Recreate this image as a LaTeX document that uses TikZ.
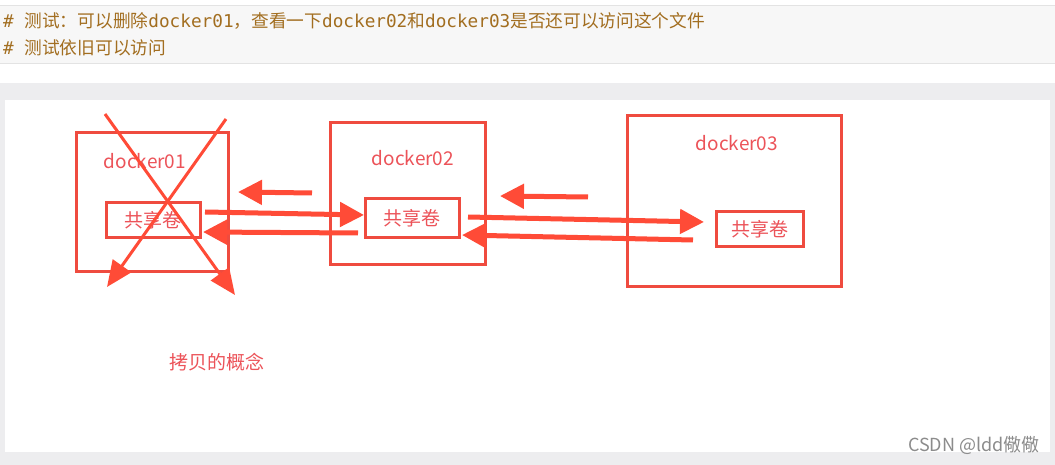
\documentclass[tikz,border=0pt]{standalone}
\usepackage{fontspec}
\setmainfont{Noto Sans CJK SC}
\setmonofont{DejaVu Sans Mono}
\newfontfamily\cjk{Noto Sans CJK SC}
\usetikzlibrary{arrows.meta}
\definecolor{PageGray}{HTML}{EDEDEF}
\definecolor{CodeBg}{HTML}{F7F7F7}
\definecolor{CodeLine}{HTML}{E3E3E3}
\definecolor{CodeBrown}{HTML}{A26E20}
\definecolor{BoxRed}{HTML}{EF4B3F}
\definecolor{ArrowRed}{HTML}{FF4B37}
\definecolor{LabelRed}{HTML}{EC5359}
\definecolor{Mark}{HTML}{8C8C8C}

\begin{document}
\begin{tikzpicture}[
      x=1pt,y=-1pt,
      code/.style={anchor=west,inner sep=0pt,text=CodeBrown,
        font=\ttfamily\fontsize{17.7}{20}\selectfont},
      container/.style={draw=BoxRed,line width=3pt,inner sep=0pt},
      volume/.style={draw=BoxRed,line width=3pt,inner sep=0pt,
        text=LabelRed,font=\cjk\fontsize{19}{22}\selectfont},
      dockname/.style={text=LabelRed,inner sep=0pt,font=\cjk\fontsize{19}{22}\selectfont},
      flow/.style={draw=ArrowRed,line width=5pt,
        -{Triangle[length=24pt,width=24pt]}},
      crossline/.style={draw=ArrowRed,line width=3pt,
        -{Triangle[length=26pt,width=22pt]}}
    ]
      \useasboundingbox (0,0) rectangle (1055,465);
      \fill[PageGray] (0,0) rectangle (1055,465);
      \fill[white] (0,0) rectangle (1055,83);
      \fill[CodeBg] (0,6) rectangle (1055,64);
      \draw[CodeLine,line width=1pt] (0,6) -- (1055,6) (0,64) -- (1055,64);
      \fill[white] (5,100) rectangle (1050,452);

      % comment lines of the code block
      \node[code] (note1) at (3,21)
        {\# {\cjk 测试：可以删除}docker01{\cjk ，查看一下}docker02{\cjk 和}docker03{\cjk 是否还可以访问这个文件}};
      \node[code] (note2) at (3,48) {\# {\cjk 测试依旧可以访问}};

      % containers
      \node[container,minimum width=152pt,minimum height=138pt] (c01) at (152,202) {};
      \node[container,minimum width=155pt,minimum height=141pt] (c02) at (407.5,193.5) {};
      \node[container,minimum width=214pt,minimum height=170pt] (c03) at (734,201) {};
      \node[dockname] (name01) at (145,161) {docker01};
      \node[dockname] (name02) at (413,158) {docker02};
      \node[dockname] (name03) at (737,143) {docker03};
      \node[volume,minimum width=94pt,minimum height=35pt] (vol01) at (153,220.5) {共享卷};
      \node[volume,minimum width=94pt,minimum height=39pt] (vol02) at (412,218.5) {共享卷};
      \node[volume,minimum width=87pt,minimum height=35pt] (vol03) at (759.5,229.5) {共享卷};

      % free ends of the arrows
      \coordinate (back12a) at (312,193);  \coordinate (back12b) at (238,192);
      \coordinate (to02a) at (205,212);    \coordinate (to02b) at (364,215);
      \coordinate (from02a) at (358,233);  \coordinate (from02b) at (203,232);
      \coordinate (back23a) at (588,197);  \coordinate (back23b) at (500,196);
      \coordinate (to03a) at (468,217);    \coordinate (to03b) at (704,222);
      \coordinate (from03a) at (693,240);  \coordinate (from03b) at (462,235);
      \coordinate (xa) at (105,114);       \coordinate (xb) at (235,295);
      \coordinate (ya) at (226,119);       \coordinate (yb) at (107,287);

      \draw[flow] (back12a) -- (back12b);
      \draw[flow] (to02a) -- (to02b);
      \draw[flow] (from02a) -- (from02b);
      \draw[flow] (back23a) -- (back23b);
      \draw[flow] (to03a) -- (to03b);
      \draw[flow] (from03a) -- (from03b);
      \draw[crossline] (xa) -- (xb);
      \draw[crossline] (ya) -- (yb);

      \node[dockname] (copy) at (217,362) {拷贝的概念};
      \node[text=Mark,inner sep=0pt,font=\cjk\fontsize{18}{20}\selectfont,anchor=east]
        (mark) at (1040,445) {CSDN @ldd儆儆};
    \end{tikzpicture}
\end{document}
